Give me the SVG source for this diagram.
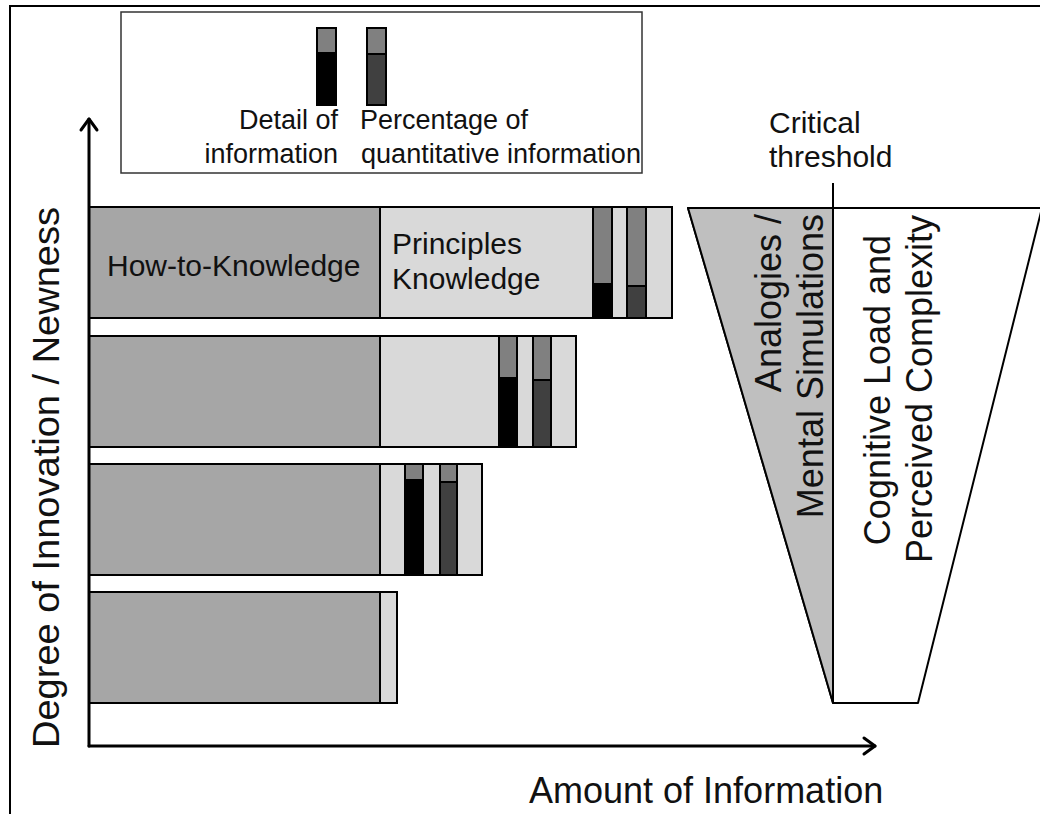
<svg xmlns="http://www.w3.org/2000/svg" width="1040" height="814" viewBox="0 0 1040 814">
<defs>
<style>
text{font-family:"Liberation Sans",Arial,sans-serif;fill:#111}
.ln{stroke:#000;stroke-width:2;fill:none}
.dk{fill:#a6a6a6;stroke:#000;stroke-width:2}
.lt{fill:#d9d9d9;stroke:#000;stroke-width:2}
.md{fill:#808080;stroke:#000;stroke-width:2}
.bk{fill:#000;stroke:#000;stroke-width:2}
.dg{fill:#404040;stroke:#000;stroke-width:2}
.ax{stroke:#000;stroke-width:3;fill:none;stroke-linecap:round;stroke-linejoin:round}
</style>
</defs>
<rect x="0" y="0" width="1040" height="814" fill="#fff"/>
<rect x="10" y="6" width="1040" height="820" fill="none" stroke="#000" stroke-width="2"/>

<g id="legend">
<rect x="121" y="12" width="521" height="161" fill="#fff" stroke="#333" stroke-width="1.5"/>
<rect class="md" x="317" y="28" width="19" height="77"/>
<rect class="bk" x="317" y="53" width="19" height="52"/>
<rect class="md" x="367" y="28" width="19" height="77"/>
<rect class="dg" x="367" y="54" width="19" height="51"/>
<text x="338" y="129" font-size="27" text-anchor="end">Detail of</text>
<text x="338" y="163" font-size="27" text-anchor="end">information</text>
<text x="360" y="129" font-size="27">Percentage of</text>
<text x="361" y="163" font-size="27" textLength="280" lengthAdjust="spacingAndGlyphs">quantitative information</text>
</g>

<g id="row1">
<rect class="dk" x="89" y="207" width="291" height="111"/>
<rect class="lt" x="380" y="207" width="292" height="111"/>
<rect class="md" x="593" y="207" width="19" height="111"/>
<rect class="bk" x="593" y="284" width="19" height="34"/>
<rect class="md" x="627" y="207" width="19" height="111"/>
<rect class="dg" x="627" y="286" width="19" height="32"/>
<text x="107" y="276" font-size="30">How-to-Knowledge</text>
<text x="392" y="254" font-size="30">Principles</text>
<text x="392" y="289" font-size="30">Knowledge</text>
</g>

<g id="row2">
<rect class="dk" x="89" y="336" width="291" height="111"/>
<rect class="lt" x="380" y="336" width="196" height="111"/>
<rect class="md" x="499" y="336" width="18" height="111"/>
<rect class="bk" x="499" y="378" width="18" height="69"/>
<rect class="md" x="533" y="336" width="18" height="111"/>
<rect class="dg" x="533" y="380" width="18" height="67"/>
</g>

<g id="row3">
<rect class="dk" x="89" y="464" width="291" height="111"/>
<rect class="lt" x="380" y="464" width="102" height="111"/>
<rect class="md" x="405" y="464" width="18" height="111"/>
<rect class="bk" x="405" y="480" width="18" height="95"/>
<rect class="md" x="440" y="464" width="17" height="111"/>
<rect class="dg" x="440" y="482" width="17" height="93"/>
</g>

<g id="row4">
<rect class="dk" x="89" y="592" width="291" height="111"/>
<rect class="lt" x="380" y="592" width="17" height="111"/>
</g>

<g id="funnel">
<polygon points="688,208 1042,208 918,703 833,703" fill="#fff" stroke="#000" stroke-width="2" stroke-linejoin="round"/>
<polygon points="688,208 833,208 833,703" fill="#bfbfbf" stroke="#000" stroke-width="2" stroke-linejoin="round"/>
<line class="ln" x1="833" y1="183" x2="833" y2="703"/>
<text font-size="36" text-anchor="end" transform="translate(781,214) rotate(-90)">Analogies /</text>
<text font-size="36" text-anchor="end" transform="translate(823,214) rotate(-90)">Mental Simulations</text>
<text font-size="36" text-anchor="middle" transform="translate(890,390) rotate(-90)">Cognitive Load and</text>
<text font-size="36" text-anchor="middle" transform="translate(932,389) rotate(-90)">Perceived Complexity</text>
</g>

<g id="threshold-label">
<text x="769" y="133" font-size="30">Critical</text>
<text x="769" y="167" font-size="30">threshold</text>
</g>

<g id="connectors">
<path class="ax" d="M89,746 V119"/>
<path class="ax" d="M81,130 L89,119 L97,130"/>
<path class="ax" d="M89,746 H875"/>
<path class="ax" d="M864,738 L875,746 L864,754"/>
</g>

<g id="axis-labels">
<text font-size="37" transform="translate(59,748) rotate(-90)" textLength="541" lengthAdjust="spacingAndGlyphs">Degree of Innovation / Newness</text>
<text x="529" y="803" font-size="36">Amount of Information</text>
</g>
</svg>
